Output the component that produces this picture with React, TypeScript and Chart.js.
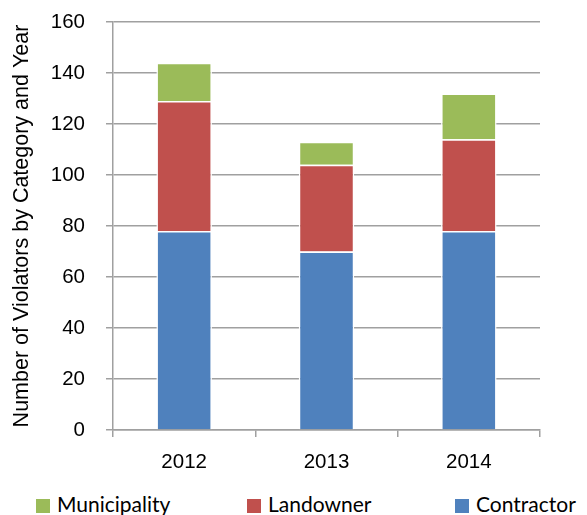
import React, { useEffect, useRef } from "react";
import { Chart, registerables } from "chart.js";

Chart.register(...registerables);

const categories = ["2012", "2013", "2014"];
const contractor = [78, 70, 78];
const landowner = [51, 34, 36];
const municipality = [15, 9, 18];
const yTicks = [0, 20, 40, 60, 80, 100, 120, 140, 160];

const series = [
  { label: "Contractor", data: contractor, color: "#4F81BD" },
  { label: "Landowner", data: landowner, color: "#C0504D" },
  { label: "Municipality", data: municipality, color: "#9BBB59" },
];

const legendLeft: Record<string, number> = { Municipality: 36, Landowner: 247, Contractor: 455 };

const axisFont = "'Liberation Sans', Arial, sans-serif";
const legendFont = "Lato, 'Liberation Sans', sans-serif";

export default function App() {
  const ref = useRef<HTMLCanvasElement>(null);
  useEffect(() => {
    const ctx = ref.current!;
    const chart = new Chart(ctx, {
      type: "bar",
      data: {
        labels: categories,
        datasets: series.map((s) => ({
          label: s.label,
          data: s.data,
          backgroundColor: s.color,
          borderColor: "#ffffff",
          borderWidth: 1.5,
        })),
      },
      options: {
        responsive: false,
        animation: false,
        layout: { padding: { top: 22, right: 47, left: 0, bottom: 0 } },
        datasets: { bar: { barPercentage: 0.39, categoryPercentage: 1 } },
        plugins: {
          tooltip: { enabled: false },
          legend: { display: false },
        },
        scales: {
          x: {
            stacked: true,
            afterFit: (s: any) => {
              s.height = 45;
              s.paddingLeft = 0;
              s.paddingRight = 0;
            },
            grid: { drawOnChartArea: false, color: "#a0a0a0", lineWidth: 1.5, tickLength: 7, offset: true },
            border: { color: "#a0a0a0", width: 1.5 },
            ticks: { color: "#000", font: { family: axisFont, size: 20.5 }, padding: 13 },
          },
          y: {
            stacked: true,
            min: 0,
            max: 160,
            afterFit: (s: any) => {
              s.width = 113;
              s.paddingTop = 0;
              s.paddingBottom = 0;
            },
            afterBuildTicks: (axis: any) => {
              axis.ticks = yTicks.map((v) => ({ value: v }));
            },
            grid: { color: "#a0a0a0", lineWidth: 1.5, tickLength: 7 },
            border: { color: "#a0a0a0", width: 1.5 },
            ticks: { color: "#000", font: { family: axisFont, size: 20.5 }, padding: 21 },
            title: {
              display: true,
              text: "Number of Violators by Category and Year",
              color: "#000",
              font: { family: axisFont, size: 21.5 },
              padding: { top: 9, bottom: 10 },
            },
          },
        },
      },
    });
    return () => chart.destroy();
  }, []);
  const legendItems = [...series].reverse();
  return (
    <div style={{ position: "fixed", left: 0, top: 0, width: 587, height: 515, background: "#fff", overflow: "hidden" }}>
      <canvas ref={ref} width={587} height={475} style={{ display: "block" }} />
      {legendItems.map((s) => (
        <React.Fragment key={s.label}>
          <span
            style={{
              position: "absolute",
              left: legendLeft[s.label],
              top: 499,
              width: 14,
              height: 14,
              background: s.color,
            }}
          />
          <span
            style={{
              position: "absolute",
              left: legendLeft[s.label] + 21,
              top: 491,
              fontFamily: legendFont,
              fontSize: 21,
              lineHeight: 1.2,
              color: "#000",
              whiteSpace: "nowrap",
            }}
          >
            {s.label}
          </span>
        </React.Fragment>
      ))}
    </div>
  );
}
